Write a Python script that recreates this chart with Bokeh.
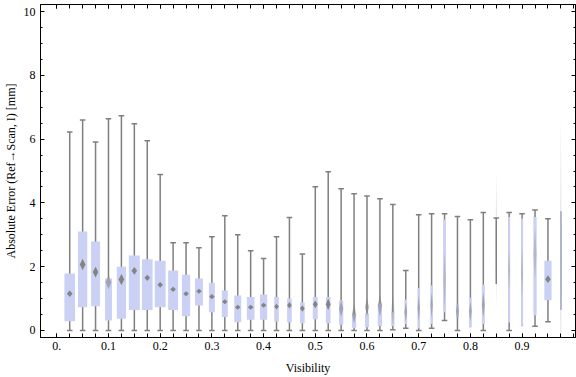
import numpy as np
from bokeh.plotting import figure
from bokeh.models import LinearAxis, FixedTicker, Range1d, ColumnDataSource
from bokeh.embed import file_html
from bokeh.resources import INLINE

# ---- data ----
visibility = [0.025, 0.05, 0.075, 0.1, 0.125, 0.15, 0.175, 0.2, 0.225, 0.25,
              0.275, 0.3, 0.325, 0.35, 0.375, 0.4, 0.425, 0.45, 0.475, 0.5,
              0.525, 0.55, 0.575, 0.6, 0.625, 0.65, 0.675, 0.7, 0.725, 0.75,
              0.775, 0.8, 0.825, 0.85, 0.875, 0.9, 0.925, 0.95, 0.975]
whisker_lo = [0, 0, 0, 0, 0, 0, 0, 0, 0, 0,
              0, 0, 0, 0, 0, 0, 0, 0, 0, 0,
              0, 0, 0, 0, 0, 0.02, 0.07, 0, 0.07, 0.31,
              0, 0.10, 0, 1.46, 0, 0.13, 0.13, 0.27, 0.65]
q1 = [0.29, 0.73, 0.76, 0.31, 0.37, 0.64, 0.64, 0.73, 0.64, 0.45,
      0.78, 0.57, 0.42, 0.26, 0.34, 0.34, 0.28, 0.26, 0.23, 0.35,
      0.23, 0.18, 0.08, 0.10, 0.14, 0.14, 0.20, 0.07, 0.20, 0.57,
      0.40, 0.10, 0.20, 1.46, 0.25, 0.13, 0.48, 0.95, 0.65]
q3 = [1.79, 3.10, 2.79, 1.63, 2.00, 2.35, 2.23, 2.19, 1.88, 1.75,
      1.63, 1.50, 1.25, 1.10, 1.05, 1.13, 1.05, 1.00, 0.88, 1.05,
      1.05, 0.94, 0.50, 0.54, 0.85, 0.57, 0.97, 1.33, 1.41, 3.48,
      0.84, 1.03, 1.44, 1.46, 3.56, 3.51, 3.56, 2.19, 3.73]
whisker_hi = [6.22, 6.60, 5.91, 6.64, 6.73, 6.48, 5.95, 4.89, 2.75, 2.75,
              2.59, 2.94, 3.60, 3.00, 2.50, 2.26, 2.94, 3.54, 2.40, 4.51,
              4.98, 4.44, 4.29, 4.22, 4.13, 3.95, 1.88, 3.63, 3.66, 3.66,
              3.57, 3.47, 3.70, 3.53, 3.70, 3.66, 3.78, 3.50, 3.73]
mean = [1.15, 2.07, 1.83, 1.51, 1.60, 1.87, 1.65, 1.43, 1.29, 1.15,
        1.23, 1.06, 0.90, 0.73, 0.73, 0.79, 0.75, 0.79, 0.69, 0.82,
        0.82, 0.68, 0.52, 0.73, 0.78, 0.63, 0.58, 0.70, 0.80, 1.57,
        0.60, 0.60, 0.80, 2.79, 1.90, 1.80, 2.40, 1.61, 2.20]
mean_ci = [0.10, 0.18, 0.17, 0.22, 0.18, 0.12, 0.10, 0.09, 0.08, 0.08,
           0.08, 0.08, 0.08, 0.08, 0.08, 0.08, 0.09, 0.10, 0.10, 0.12,
           0.18, 0.25, 0.30, 0.30, 0.35, 0.50, 0.30, 0.40, 0.40, 0.90,
           0.35, 0.30, 0.40, 2.14, 0.60, 0.80, 0.80, 0.12, 4.44]
# relative box widths (sample size), in pixels of the original
box_w_px = [10.7, 9.3, 9.0, 7.0, 9.3, 11.0, 10.7, 11.0, 10.0, 8.3,
            8.0, 6.0, 6.0, 7.0, 7.7, 7.3, 4.7, 4.7, 4.7, 5.0,
            4.7, 4.3, 4.3, 4.0, 4.3, 3.3, 2.7, 2.3, 2.3, 2.7,
            3.0, 2.7, 3.0, 0.0, 2.0, 2.0, 3.3, 7.3, 1.3]

x_tick_vals = [0, 0.1, 0.2, 0.3, 0.4, 0.5, 0.6, 0.7, 0.8, 0.9]
x_tick_text = ["0.", "0.1", "0.2", "0.3", "0.4", "0.5", "0.6", "0.7", "0.8", "0.9"]
y_tick_vals = [0, 2, 4, 6, 8, 10]

# ---- geometry helpers ----
PX = 0.025 / 13.0  # data units per pixel along x
x = np.array(visibility)
lo = np.array(whisker_lo); hi = np.array(whisker_hi)
b1 = np.array(q1); b3 = np.array(q3)
m = np.array(mean); ci = np.array(mean_ci)
bw = np.array(box_w_px) * PX

FONT = "Liberation Serif"
FS = "12px"
BOX = "#cbd1f4"
WH = "#7f7f7f"

X0, X1 = -0.0315, 1.0033
p = figure(width=576, height=377,
           x_range=Range1d(X0, X1), y_range=Range1d(-0.22, 10.22),
           output_backend="svg", toolbar_location=None,
           x_axis_location=None, y_axis_location=None,
           min_border_left=37, min_border_right=1,
           min_border_top=4, min_border_bottom=40)
p.grid.grid_line_color = None
p.outline_line_color = "black"
p.outline_line_width = 1
p.background_fill_color = "white"
p.border_fill_color = "white"

xminor = [round(0.025 * k, 4) for k in range(0, 41)]
yminor = [0.5 * k for k in range(0, 21)]


def style(ax, labels=True):
    ax.axis_line_color = "black"
    ax.major_tick_line_color = "black"
    ax.minor_tick_line_color = "black"
    ax.major_tick_out = 0
    ax.minor_tick_out = 0
    ax.major_label_text_font = FONT
    ax.major_label_text_font_size = FS if labels else "0px"
    ax.major_label_text_color = "black"
    ax.axis_label_text_font = FONT
    ax.axis_label_text_font_size = FS
    ax.axis_label_text_font_style = "normal"
    ax.axis_label_text_color = "black"
    if not labels:
        ax.major_label_standoff = 0


xb = LinearAxis(ticker=FixedTicker(ticks=x_tick_vals, minor_ticks=xminor))
style(xb)
xb.major_tick_in = 4; xb.minor_tick_in = 4
xb.major_label_standoff = 4
xb.major_label_overrides = {v: t for v, t in zip(x_tick_vals, x_tick_text)}
p.add_layout(xb, "below")

# separate axis carrying only the x title, stacked below the tick labels
xlab = LinearAxis(ticker=FixedTicker(ticks=[]), axis_label="Visibility")
style(xlab, labels=False)
xlab.axis_line_color = None
xlab.major_tick_in = 0
xlab.minor_tick_in = 0
xlab.axis_label_standoff = 8
p.add_layout(xlab, "below")

xt = LinearAxis(ticker=FixedTicker(ticks=x_tick_vals, minor_ticks=xminor))
style(xt, labels=False)
xt.major_tick_in = 4; xt.minor_tick_in = 4
xt.major_label_overrides = {v: "" for v in x_tick_vals}
p.add_layout(xt, "above")

yl = LinearAxis(ticker=FixedTicker(ticks=y_tick_vals, minor_ticks=yminor),
                axis_label="Absolute Error (Ref\u2192Scan, I) [mm]")
style(yl)
yl.major_tick_in = 4; yl.minor_tick_in = 2
yl.major_label_standoff = 5
yl.axis_label_standoff = 3
p.add_layout(yl, "left")

yr = LinearAxis(ticker=FixedTicker(ticks=y_tick_vals, minor_ticks=yminor))
style(yr, labels=False)
yr.major_tick_in = 4; yr.minor_tick_in = 2
yr.major_label_overrides = {v: "" for v in y_tick_vals}
p.add_layout(yr, "right")

# whiskers
src = ColumnDataSource(dict(x=x, lo=lo, hi=hi))
p.segment(x0="x", y0="lo", x1="x", y1="hi", source=src,
          line_color=WH, line_width=1.5)

# caps (only where a whisker extends beyond the box)
cw = 2.8 * PX
cap_x0, cap_x1, cap_y = [], [], []
for xi, l, h, a, b in zip(x, lo, hi, b1, b3):
    if a - l > 0.01 or l == 0:
        cap_x0.append(xi - cw); cap_x1.append(xi + cw); cap_y.append(l)
    if h - b > 0.01:
        cap_x0.append(xi - cw); cap_x1.append(xi + cw); cap_y.append(h)
p.segment(x0=cap_x0, y0=cap_y, x1=cap_x1, y1=cap_y,
          line_color=WH, line_width=1.5)

# boxes
keep = bw > 0
p.vbar(x=x[keep], width=bw[keep], top=b3[keep], bottom=b1[keep],
       fill_color=BOX, line_color=None)

# mean diamonds (mean with confidence interval)
dxs, dys, alphas = [], [], []
for xi, mi, ci_, w in zip(x, m, ci, bw):
    hw = min(2.8 * PX, w / 2) if w > 0 else 0.6 * PX
    dxs.append([xi - hw, xi, xi + hw, xi])
    dys.append([mi, mi + ci_, mi, mi - ci_])
    alphas.append(0.95 if ci_ < 0.2 else (0.55 if ci_ < 0.5 else 0.3))
p.patches(xs=dxs, ys=dys, fill_color=WH, fill_alpha=alphas, line_color=None)

open("out.html", "w").write(file_html(p, INLINE))
